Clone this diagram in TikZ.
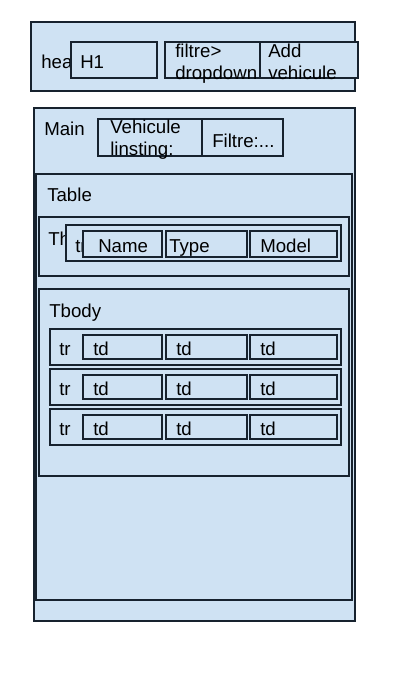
\documentclass[tikz,border=0pt]{standalone}
\usepackage{fontspec}
\setmainfont{Liberation Sans}
\definecolor{boxfill}{HTML}{CFE2F3}
\definecolor{boxline}{HTML}{17222E}
\tikzset{
	pane/.style={draw=boxline, fill=boxfill, line width=0.9pt},
	lbl/.style={anchor=base west, inner sep=0pt, text=black, font=\fontsize{14}{16}\selectfont},
	lbltwo/.style={anchor=north west, inner sep=0pt, align=left, text=black, font=\fontsize{14}{16.5}\selectfont}
}
\begin{document}
\begin{tikzpicture}[x=0.75pt,y=0.75pt,yscale=-1,xscale=1]
	\useasboundingbox (0,0) rectangle (412,690);

	%Shape: Rectangle (header)
	\draw [pane] (31,22) rectangle (355,91);
	% Text Node
	\draw (41,68) node (hdrtxt) [lbl] {header};
	%Shape: Rectangle (H1)
	\draw [pane] (71,42) rectangle (157,78);
	% Text Node
	\draw (80,68) node (hone) [lbl] {H1};
	%Shape: Rectangle (filtre)
	\draw [pane] (165,42) rectangle (260,78);
	% Text Node
	\draw (175,43.5) node (filtdrop) [lbltwo] {filtre>\\dropdown};
	%Shape: Rectangle (add)
	\draw [pane] (260,42) rectangle (358,78);
	% Text Node
	\draw (268,44) node (addveh) [lbltwo] {Add\\vehicule};

	%Shape: Rectangle (main)
	\draw [pane] (34,108) rectangle (355,621);
	% Text Node
	\draw (44,135) node (maintxt) [lbl] {Main};
	%Shape: Rectangle (listing)
	\draw [pane] (98,119) rectangle (202,156);
	%Shape: Rectangle (filter)
	\draw [pane] (202,119) rectangle (283,156);
	% Text Node
	\draw (110,120) node (vehlist) [lbltwo] {Vehicule\\linsting:};
	% Text Node
	\draw (212,147) node (filtxt) [lbl] {Filtre:...};

	%Shape: Rectangle (table)
	\draw [pane] (36,174) rectangle (352,600);
	% Text Node
	\draw (47,201) node (tabtxt) [lbl] {Table};

	%Shape: Rectangle (thead)
	\draw [pane] (39,217) rectangle (349,276);
	% Text Node
	\draw (48,245) node (theadtxt) [lbl] {Thead};
	%Shape: Rectangle (thead row)
	\draw [pane] (66,225) rectangle (341,261);
	% Text Node
	\draw (75,252) node (headtr) [lbl] {tr};
	%Shape: Rectangle (header cells)
	\draw [pane] (83,231) rectangle (162,257);
	\draw [pane] (166,231) rectangle (247,257);
	\draw [pane] (250,231) rectangle (337,257);
	% Text Node
	\draw (98,252) node (thname) [lbl] {Name};
	% Text Node
	\draw (169,252) node (thtype) [lbl] {Type};
	% Text Node
	\draw (260,252) node (thmodel) [lbl] {Model};

	%Shape: Rectangle (tbody)
	\draw [pane] (39,289) rectangle (349,476);
	% Text Node
	\draw (49,317) node (tbodytxt) [lbl] {Tbody};
	%Shape: Rectangle (body rows)
	\foreach \r/\y in {1/329,2/369,3/409} {
		\draw [pane] (50,\y) rectangle (341,\y+36);
		\draw (59,\y+26) node (tr\r) [lbl] {tr};
		\draw [pane] (83,\y+6) rectangle (162,\y+30);
		\draw [pane] (166,\y+6) rectangle (247,\y+30);
		\draw [pane] (250,\y+6) rectangle (337,\y+30);
		\draw (93,\y+26) node (tdA\r) [lbl] {td};
		\draw (176,\y+26) node (tdB\r) [lbl] {td};
		\draw (260,\y+26) node (tdC\r) [lbl] {td};
	}
\end{tikzpicture}
\end{document}
